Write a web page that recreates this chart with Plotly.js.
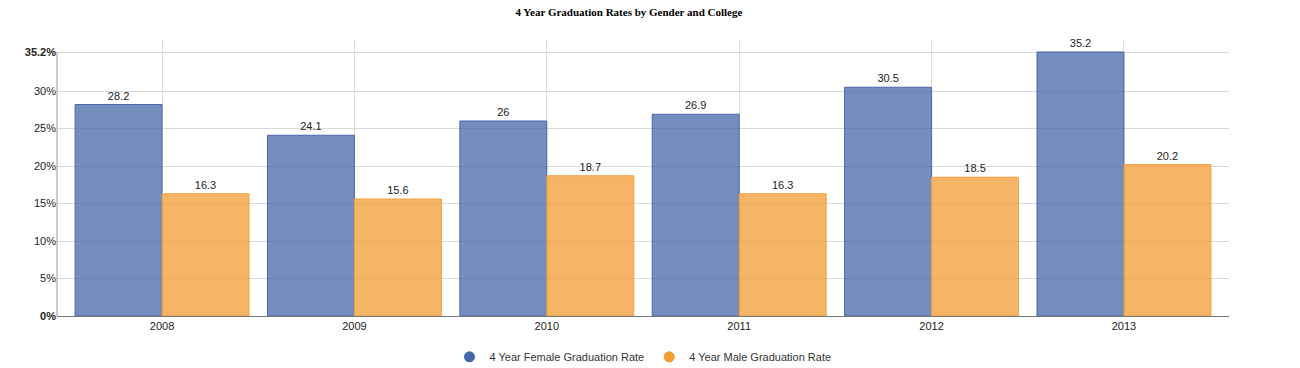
<!DOCTYPE html>
<html>
<head>
<meta charset="utf-8">
<script src="https://cdn.plot.ly/plotly-3.0.1.min.js"></script>
<style>html,body{margin:0;padding:0;background:#fff;}#chart{width:1300px;height:368px;}</style>
</head>
<body>
<div id="chart"></div>
<script>
const years = ["2008", "2009", "2010", "2011", "2012", "2013"];
const femaleRate = [28.2, 24.1, 26, 26.9, 30.5, 35.2];
const maleRate = [16.3, 15.6, 18.7, 16.3, 18.5, 20.2];
const seriesNames = ["4 Year Female Graduation Rate", "4 Year Male Graduation Rate"];
const yTickVals = [0, 5, 10, 15, 20, 25, 30, 35.2];
const yTickText = ["<b>0%</b>", "5%", "10%", "15%", "20%", "25%", "30%", "<b>35.2%</b>"];

const font = "Liberation Sans, Arial, Helvetica, sans-serif";

const traces = [
  {
    type: "bar", x: years, y: femaleRate, name: seriesNames[0], showlegend: false,
    marker: {color: "rgba(69,103,170,0.75)", line: {color: "#4a69a8", width: 1}},
    text: femaleRate.map(String), textposition: "outside", cliponaxis: false,
    textfont: {family: font, size: 11, color: "#222"}
  },
  {
    type: "bar", x: years, y: maleRate, name: seriesNames[1], showlegend: false,
    marker: {color: "rgba(243,156,51,0.75)", line: {color: "#f2a23e", width: 1}},
    text: maleRate.map(String), textposition: "outside", cliponaxis: false,
    textfont: {family: font, size: 11, color: "#222"}
  },
  {
    type: "scatter", mode: "markers", x: [null], y: [null], name: seriesNames[0],
    marker: {color: "#4767ab", size: 11, symbol: "circle"}
  },
  {
    type: "scatter", mode: "markers", x: [null], y: [null], name: seriesNames[1],
    marker: {color: "#f39c33", size: 11, symbol: "circle"}
  }
];

const layout = {
  width: 1300, height: 368,
  margin: {l: 57, r: 71, t: 40, b: 52, autoexpand: false},
  paper_bgcolor: "#fff", plot_bgcolor: "#fff",
  title: {
    text: "<b>4 Year Graduation Rates by Gender and College</b>",
    font: {family: "Liberation Serif, Times New Roman, serif", size: 11, color: "#000"},
    x: 0.4838, xanchor: "center", y: 0.967, yanchor: "middle"
  },
  barmode: "group", bargap: 0.096, bargroupgap: 0,
  showlegend: true,
  legend: {
    orientation: "h", x: 0.5, xanchor: "center", y: -0.148, yanchor: "middle",
    font: {family: font, size: 11, color: "#333"}, itemwidth: 30, tracegroupgap: 0
  },
  xaxis: {
    type: "category", range: [-0.546, 5.546],
    showgrid: true, gridcolor: "#dcdcdc", gridwidth: 1,
    showline: true, linecolor: "#777", linewidth: 1,
    ticks: "", tickfont: {family: font, size: 11, color: "#222"},
    zeroline: false, fixedrange: true, automargin: false
  },
  yaxis: {
    range: [0, 36.8],
    tickmode: "array", tickvals: yTickVals, ticktext: yTickText,
    showgrid: true, gridcolor: "#d8d8d8", gridwidth: 1,
    showline: false, zeroline: false, ticks: "",
    tickfont: {family: font, size: 11, color: "#222"},
    fixedrange: true, automargin: false
  },
  shapes: [
    {type: "line", xref: "paper", yref: "y", x0: 0, x1: 0, y0: 0, y1: 35.2,
     line: {color: "#999", width: 1}}
  ],
  hovermode: false
};

Plotly.newPlot("chart", traces, layout, {displayModeBar: false, staticPlot: true});
</script>
</body>
</html>
